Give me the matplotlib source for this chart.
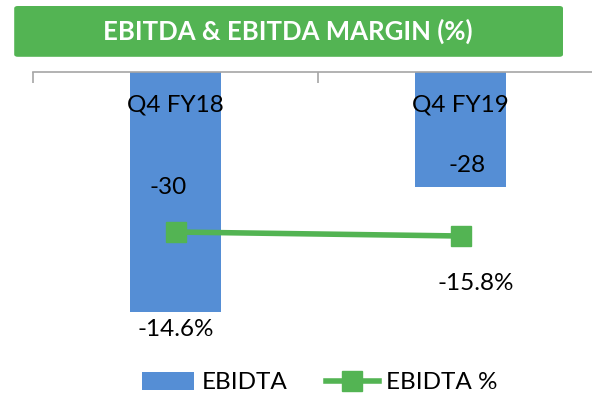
import matplotlib
matplotlib.use("Agg")
import matplotlib.pyplot as plt
from matplotlib.patches import FancyBboxPatch, Patch
from matplotlib.lines import Line2D

# data
quarters = ["Q4 FY18", "Q4 FY19"]
ebitda = [-30, -28]
margin = [-14.6, -15.8]
ebitda_labels = ["-30", "-28"]
margin_labels = ["-14.6%", "-15.8%"]

blue = "#558ed5"
green = "#53b453"
fs = 17.5

plt.rcParams['font.family'] = ['Lato', 'DejaVu Sans']

fig = plt.figure(figsize=(5.92, 4.0), dpi=100)

# title box
box = FancyBboxPatch((0.024, 0.858), 0.927, 0.127, boxstyle="round,pad=0,rounding_size=0.006",
                     transform=fig.transFigure, facecolor=green, edgecolor="none")
fig.patches.append(box)
fig.text(0.486, 0.921, "EBITDA & EBITDA MARGIN (%)", color="white", fontsize=18.5,
         fontweight="bold", ha="center", va="center")

# axes: left 33px, spans 570px (goes past the right edge like the original)
ax = fig.add_axes([33 / 592, 40 / 400, 570 / 592, 288 / 400])
x = list(range(len(quarters)))
ax.bar(x, ebitda, width=0.316, color=blue, zorder=2)
ax.set_xlim(-0.5, 1.5)
ax.set_ylim(-30.77, -26.16)

for s in ["left", "right", "bottom"]:
    ax.spines[s].set_visible(False)
ax.spines["top"].set_color("#a6a6a6")
ax.spines["top"].set_linewidth(1.2)
ax.xaxis.tick_top()
ax.set_xticks([-0.5, 0.5, 1.5])
ax.set_xticklabels([])
ax.tick_params(axis="x", direction="in", length=8, color="#a6a6a6", width=1.2)
ax.set_yticks([])

for i, q in enumerate(quarters):
    ax.annotate(q, xy=(i, 1), xycoords=("data", "axes fraction"), xytext=(0, -33),
                textcoords="offset pixels", ha="center", va="center", fontsize=fs)

lbl_off = [(-7, 124), (7, 21)]
for i, v in enumerate(ebitda):
    ax.annotate(ebitda_labels[i], xy=(i, v), xytext=lbl_off[i], textcoords="offset pixels",
                ha="center", va="center", fontsize=fs)

ax2 = ax.twinx()
ax2.plot(x, margin, color=green, linewidth=4, marker="s", markersize=14, zorder=3)
ax2.set_ylim(-53.0, 33.4)
ax2.set_yticks([])
for s in ["left", "right", "bottom", "top"]:
    ax2.spines[s].set_visible(False)

m_off = [(0, -98), (15, -47)]
for i, v in enumerate(margin):
    ax2.annotate(margin_labels[i], xy=(i, v), xytext=m_off[i], textcoords="offset pixels",
                 ha="center", va="center", fontsize=fs)

handles = [Patch(facecolor=blue, edgecolor="none"),
           Line2D([], [], color=green, linewidth=4, marker="s", markersize=14)]
fig.legend(handles, ["EBIDTA", "EBIDTA %"], loc="center", bbox_to_anchor=(0.54, 0.043),
           ncol=2, frameon=False, fontsize=fs, handlelength=2.15, handleheight=0.75,
           handletextpad=0.3, columnspacing=1.6)

fig.savefig("out.png", dpi=100)
